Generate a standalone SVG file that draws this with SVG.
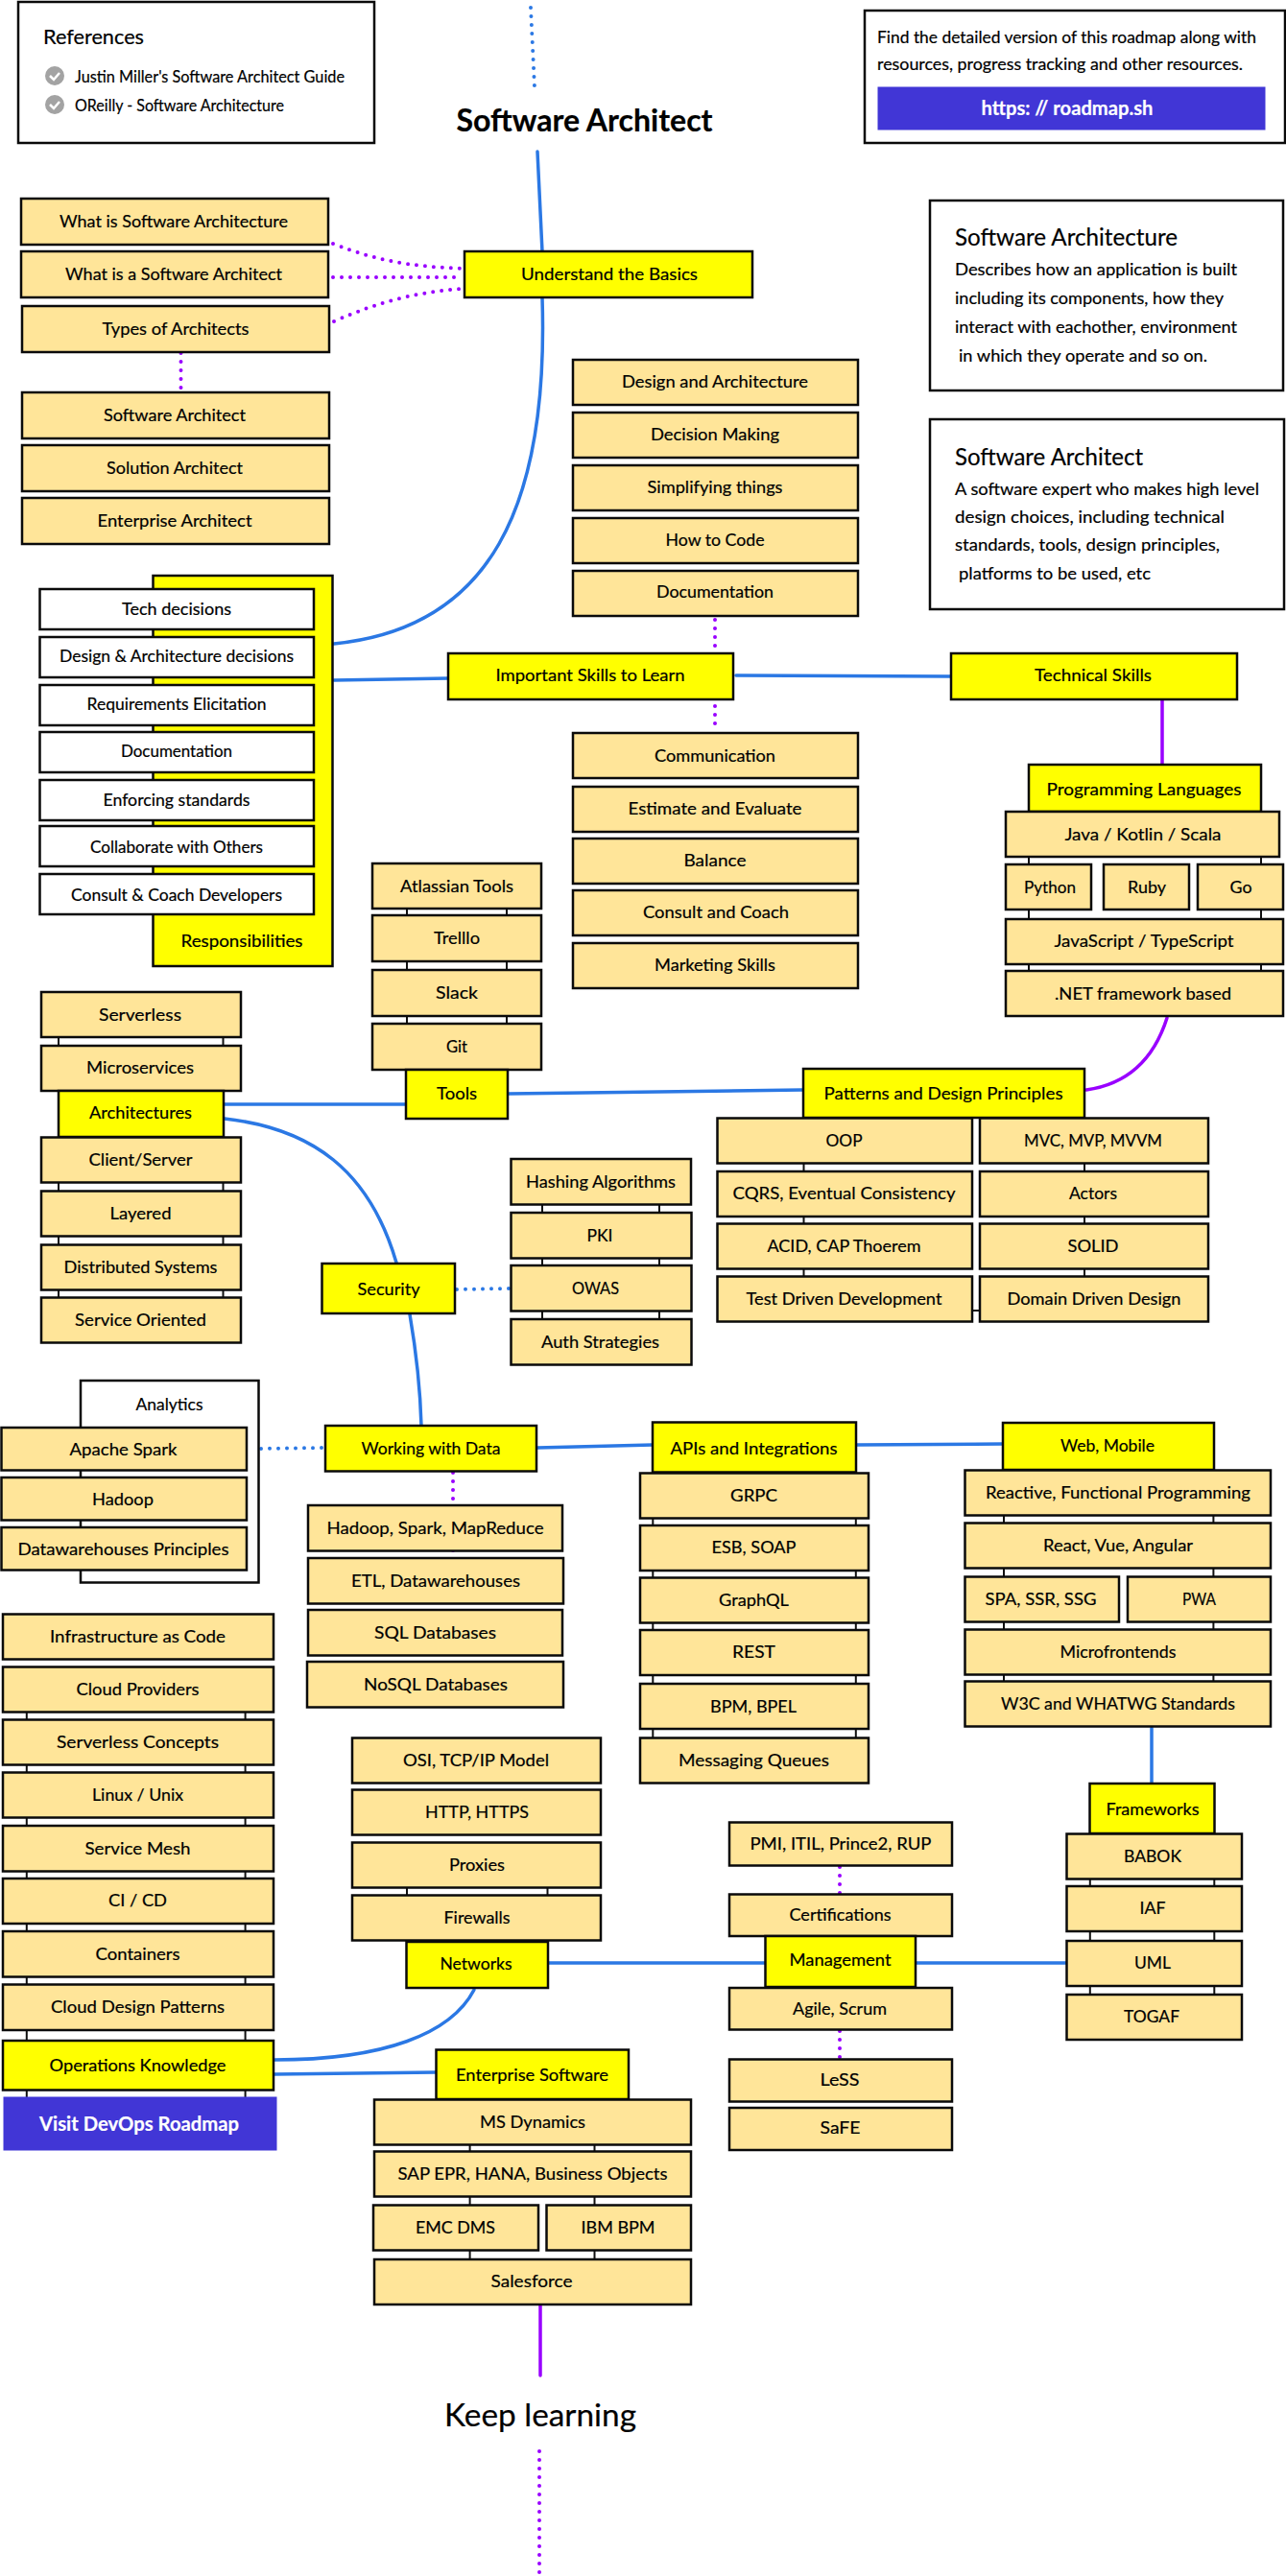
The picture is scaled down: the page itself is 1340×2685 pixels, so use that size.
<svg xmlns="http://www.w3.org/2000/svg" width="1340" height="2685" viewBox="0 0 1340 2685">
<style>
rect{stroke:#0a0a0a;stroke-width:2.5}
.b{fill:#ffe599}.y{fill:#ffff00}.w{fill:#fff}.p{fill:#4136d6;stroke:#4136d6;stroke-width:1}
text{font-family:"Lato","Liberation Sans",sans-serif;font-size:18px;fill:#000;stroke:#000;stroke-width:.2px;dominant-baseline:central;transform:translateY(-1px)}
.t{text-anchor:middle}.l{text-anchor:start}
.s{font-size:17px}.h{font-size:25px}.ti{font-size:33px}.bo{font-weight:700}.wh{fill:#fff;stroke:#fff;font-weight:700}.big{font-size:21px}
.c{fill:none;stroke-linecap:round}
.bl{stroke:#2b78e4;stroke-width:3.5}.pu{stroke:#9900ff;stroke-width:3.5}
.bd{stroke:#2b78e4;stroke-width:4;stroke-dasharray:0 9}.pd{stroke:#9900ff;stroke-width:4;stroke-dasharray:0 9}
.k{fill:none;stroke:#111;stroke-width:2}
</style>
<g id="connectors">
<path class="c bd" d="M553 8L557 91"/>
<path class="c bl" d="M560 158L565 262"/>
<path class="c bl" d="M565 310C572 530 510 655 348 671"/>
<path class="c pd" d="M347 254C400 275 440 278 482 280"/>
<path class="c pd" d="M347 289H482"/>
<path class="c pd" d="M348 335C400 312 440 304 482 301"/>
<path class="c pd" d="M188.500 368V405"/>
<path class="c pd" d="M745 646V676"/>
<path class="c pd" d="M745 736V763"/>
<path class="c bl" d="M348 709L467 707"/>
<path class="c bl" d="M767 704L991 705"/>
<path class="c pu" d="M1211 730V797"/>
<path class="c pu" d="M1216 1061C1202 1105 1175 1130 1132 1136"/>
<path class="c bl" d="M530 1140L836 1136"/>
<path class="c bl" d="M234 1151L423 1151"/>
<path class="c bl" d="M234 1166C325 1176 385 1220 413 1316"/>
<path class="c bd" d="M476 1344L531 1343"/>
<path class="c bl" d="M427 1370C433 1405 438 1450 439 1486"/>
<path class="c bd" d="M272 1510L337 1509"/>
<path class="c bl" d="M560 1509L680 1506"/>
<path class="c pd" d="M472 1535V1620"/>
<path class="c bl" d="M893 1506L1045 1505"/>
<path class="c bl" d="M1200 1801V1858"/>
<path class="c pd" d="M875 1946V1974"/>
<path class="c pd" d="M875 2117V2193"/>
<path class="c bl" d="M572 2046H797"/>
<path class="c bl" d="M955 2046H1111"/>
<path class="c bl" d="M494 2074C470 2120 400 2147 286 2147"/>
<path class="c bl" d="M286 2162L454 2160"/>
<path class="c pu" d="M563 2403V2476"/>
<path class="c pd" d="M562 2555V2683"/>
<path class="k" d="M1072 893V1012M1314 893V1012M424 947V1115M528 947V1115M61 1081V1352M232.500 1081V1352M565 1255V1375M687 1255V1375M837.500 1212V1330M1130 1212V1330M1013 1366H1021M1013 1165H1021M680.300 1582V1811M891.800 1582V1811M1046 1579V1752M1264.400 1579V1752M1135.800 1958V2079M1265.300 1958V2079M424 1967V1975M570.500 1967V1975M27.800 1784V2186M255.600 1784V2186M489.600 2235V2355M619.500 2235V2355"/>
</g>
<g id="references"><rect class="w" x="19" y="2" width="371" height="147"/>
<text class="l big" x="45" y="38" textLength="105" lengthAdjust="spacingAndGlyphs">References</text>
<circle cx="57" cy="79" r="10" fill="#a3a3a3"/><path d="M52 79l4 4 6-7" fill="none" stroke="#fff" stroke-width="2.500"/>
<text class="l s" x="78" y="80" textLength="281" lengthAdjust="spacingAndGlyphs">Justin Miller's Software Architect Guide</text>
<circle cx="57" cy="109" r="10" fill="#a3a3a3"/><path d="M52 109l4 4 6-7" fill="none" stroke="#fff" stroke-width="2.500"/>
<text class="l s" x="78" y="110" textLength="218" lengthAdjust="spacingAndGlyphs">OReilly - Software Architecture</text></g>
<g id="title"><text class="t ti bo" x="609" y="125" textLength="267" lengthAdjust="spacingAndGlyphs">Software Architect</text></g>
<g id="roadmap-box"><rect class="w" x="901" y="11" width="438" height="138"/>
<text class="l s" x="914" y="39" textLength="395" lengthAdjust="spacingAndGlyphs">Find the detailed version of this roadmap along with</text>
<text class="l s" x="914" y="67" textLength="381" lengthAdjust="spacingAndGlyphs">resources, progress tracking and other resources.</text>
<rect class="p" x="915" y="91" width="403" height="44"/>
<text class="t wh big" x="1112" y="112" textLength="179" lengthAdjust="spacingAndGlyphs">https: // roadmap.sh</text></g>
<g id="about-architecture"><rect class="w" x="969" y="209" width="368" height="198"/>
<text class="l h" x="995" y="247" textLength="232" lengthAdjust="spacingAndGlyphs">Software Architecture</text>
<text class="l" x="995" y="281" textLength="294" lengthAdjust="spacingAndGlyphs">Describes how an application is built</text>
<text class="l" x="995" y="311" textLength="280" lengthAdjust="spacingAndGlyphs">including its components, how they</text>
<text class="l" x="995" y="341" textLength="294" lengthAdjust="spacingAndGlyphs">interact with eachother, environment</text>
<text class="l" x="999" y="371" textLength="259" lengthAdjust="spacingAndGlyphs">in which they operate and so on.</text></g>
<g id="about-architect"><rect class="w" x="969" y="437" width="369" height="198"/>
<text class="l h" x="995" y="476" textLength="196" lengthAdjust="spacingAndGlyphs">Software Architect</text>
<text class="l" x="995" y="510" textLength="317" lengthAdjust="spacingAndGlyphs">A software expert who makes high level</text>
<text class="l" x="995" y="539" textLength="281" lengthAdjust="spacingAndGlyphs">design choices, including technical</text>
<text class="l" x="995" y="568" textLength="276" lengthAdjust="spacingAndGlyphs">standards, tools, design principles,</text>
<text class="l" x="999" y="598" textLength="200" lengthAdjust="spacingAndGlyphs">platforms to be used, etc</text></g>

<g id="understand"><rect class="y" x="484" y="262" width="300" height="48"/><text class="t" x="635" y="286" textLength="184" lengthAdjust="spacingAndGlyphs">Understand the Basics</text></g>
<g id="what-architecture"><rect class="b" x="22" y="207" width="320" height="48"/><text class="t" x="181" y="231" textLength="238" lengthAdjust="spacingAndGlyphs">What is Software Architecture</text></g>
<g id="what-architect"><rect class="b" x="22" y="262" width="320" height="48"/><text class="t" x="181" y="286" textLength="226" lengthAdjust="spacingAndGlyphs">What is a Software Architect</text></g>
<g id="types"><rect class="b" x="23" y="319" width="320" height="48"/><text class="t" x="183" y="343" textLength="153" lengthAdjust="spacingAndGlyphs">Types of Architects</text></g>
<g id="software-architect"><rect class="b" x="23" y="409" width="320" height="48"/><text class="t" x="182" y="433" textLength="148" lengthAdjust="spacingAndGlyphs">Software Architect</text></g>
<g id="solution-architect"><rect class="b" x="23" y="464" width="320" height="48"/><text class="t" x="182" y="488" textLength="142" lengthAdjust="spacingAndGlyphs">Solution Architect</text></g>
<g id="enterprise-architect"><rect class="b" x="23" y="519" width="320" height="48"/><text class="t" x="182" y="543" textLength="161" lengthAdjust="spacingAndGlyphs">Enterprise Architect</text></g>

<g id="design"><rect class="b" x="597" y="375" width="297" height="47"/><text class="t" x="745" y="398" textLength="194" lengthAdjust="spacingAndGlyphs">Design and Architecture</text></g>
<g id="decision"><rect class="b" x="597" y="430" width="297" height="47"/><text class="t" x="745" y="453" textLength="134" lengthAdjust="spacingAndGlyphs">Decision Making</text></g>
<g id="simplifying"><rect class="b" x="597" y="485" width="297" height="47"/><text class="t" x="745" y="508" textLength="141" lengthAdjust="spacingAndGlyphs">Simplifying things</text></g>
<g id="how-to-code"><rect class="b" x="597" y="540" width="297" height="47"/><text class="t" x="745" y="563" textLength="103" lengthAdjust="spacingAndGlyphs">How to Code</text></g>
<g id="documentation"><rect class="b" x="597" y="595" width="297" height="47"/><text class="t" x="745" y="617" textLength="122" lengthAdjust="spacingAndGlyphs">Documentation</text></g>
<g id="important"><rect class="y" x="467" y="681" width="297" height="48"/><text class="t" x="615" y="704" textLength="197" lengthAdjust="spacingAndGlyphs">Important Skills to Learn</text></g>
<g id="technical"><rect class="y" x="991" y="681" width="298" height="48"/><text class="t" x="1139" y="704" textLength="122" lengthAdjust="spacingAndGlyphs">Technical Skills</text></g>
<g id="communication"><rect class="b" x="597" y="764" width="297" height="47"/><text class="t" x="745" y="788" textLength="126" lengthAdjust="spacingAndGlyphs">Communication</text></g>
<g id="estimate"><rect class="b" x="597" y="820" width="297" height="47"/><text class="t" x="745" y="843" textLength="181" lengthAdjust="spacingAndGlyphs">Estimate and Evaluate</text></g>
<g id="balance"><rect class="b" x="597" y="874" width="297" height="47"/><text class="t" x="745" y="897" textLength="65" lengthAdjust="spacingAndGlyphs">Balance</text></g>
<g id="consult"><rect class="b" x="597" y="928" width="297" height="47"/><text class="t" x="746" y="951" textLength="152" lengthAdjust="spacingAndGlyphs">Consult and Coach</text></g>
<g id="marketing"><rect class="b" x="597" y="983" width="297" height="47"/><text class="t" x="745" y="1006" textLength="126" lengthAdjust="spacingAndGlyphs">Marketing Skills</text></g>

<g id="responsibilities"><rect class="y" x="159.500" y="600" width="187" height="407"/><text class="t" x="252" y="981" textLength="127" lengthAdjust="spacingAndGlyphs">Responsibilities</text></g>
<g id="tech-decisions"><rect class="w" x="41.500" y="614" width="285.500" height="42"/><text class="t" x="184" y="635" textLength="114" lengthAdjust="spacingAndGlyphs">Tech decisions</text></g>
<g id="design-decisions"><rect class="w" x="41.500" y="664" width="285.500" height="42"/><text class="t" x="184" y="684" textLength="244" lengthAdjust="spacingAndGlyphs">Design &amp; Architecture decisions</text></g>
<g id="requirements"><rect class="w" x="41.500" y="714" width="285.500" height="42"/><text class="t" x="184" y="734" textLength="187" lengthAdjust="spacingAndGlyphs">Requirements Elicitation</text></g>
<g id="resp-documentation"><rect class="w" x="41.500" y="763" width="285.500" height="42"/><text class="t" x="184" y="783" textLength="116" lengthAdjust="spacingAndGlyphs">Documentation</text></g>
<g id="enforcing"><rect class="w" x="41.500" y="813" width="285.500" height="42"/><text class="t" x="184" y="834" textLength="153" lengthAdjust="spacingAndGlyphs">Enforcing standards</text></g>
<g id="collaborate"><rect class="w" x="41.500" y="861" width="285.500" height="42"/><text class="t" x="184" y="883" textLength="180" lengthAdjust="spacingAndGlyphs">Collaborate with Others</text></g>
<g id="consult-coach"><rect class="w" x="41.500" y="911" width="285.500" height="42"/><text class="t" x="184" y="933" textLength="220" lengthAdjust="spacingAndGlyphs">Consult &amp; Coach Developers</text></g>

<g id="programming"><rect class="y" x="1072" y="797" width="242" height="49"/><text class="t" x="1192" y="823" textLength="203" lengthAdjust="spacingAndGlyphs">Programming Languages</text></g>
<g id="java"><rect class="b" x="1048" y="846" width="285" height="47"/><text class="t" x="1191" y="870" textLength="163" lengthAdjust="spacingAndGlyphs">Java / Kotlin / Scala</text></g>
<g id="python"><rect class="b" x="1048" y="901" width="89" height="47"/><text class="t" x="1094" y="925" textLength="54" lengthAdjust="spacingAndGlyphs">Python</text></g>
<g id="ruby"><rect class="b" x="1150" y="901" width="89" height="47"/><text class="t" x="1195" y="925" textLength="40" lengthAdjust="spacingAndGlyphs">Ruby</text></g>
<g id="go"><rect class="b" x="1248" y="901" width="89" height="47"/><text class="t" x="1293" y="925" textLength="23" lengthAdjust="spacingAndGlyphs">Go</text></g>
<g id="javascript"><rect class="b" x="1048" y="958" width="289" height="47"/><text class="t" x="1192" y="981" textLength="187" lengthAdjust="spacingAndGlyphs">JavaScript / TypeScript</text></g>
<g id="dotnet"><rect class="b" x="1048" y="1012" width="289" height="47"/><text class="t" x="1191" y="1036" textLength="184" lengthAdjust="spacingAndGlyphs">.NET framework based</text></g>

<g id="atlassian"><rect class="b" x="388" y="900" width="176" height="47"/><text class="t" x="476" y="924" textLength="118" lengthAdjust="spacingAndGlyphs">Atlassian Tools</text></g>
<g id="trello"><rect class="b" x="388" y="954" width="176" height="48"/><text class="t" x="476" y="978" textLength="48" lengthAdjust="spacingAndGlyphs">Trelllo</text></g>
<g id="slack"><rect class="b" x="388" y="1011" width="176" height="48"/><text class="t" x="476" y="1035" textLength="44" lengthAdjust="spacingAndGlyphs">Slack</text></g>
<g id="git"><rect class="b" x="388" y="1067" width="176" height="48"/><text class="t" x="476" y="1091" textLength="22" lengthAdjust="spacingAndGlyphs">Git</text></g>
<g id="tools"><rect class="y" x="423" y="1115" width="106" height="51"/><text class="t" x="476" y="1140" textLength="42" lengthAdjust="spacingAndGlyphs">Tools</text></g>

<g id="patterns"><rect class="y" x="837" y="1114" width="293" height="51"/><text class="t" x="983" y="1140" textLength="249" lengthAdjust="spacingAndGlyphs">Patterns and Design Principles</text></g>
<g id="oop"><rect class="b" x="747.500" y="1165.500" width="265.500" height="47"/><text class="t" x="879.500" y="1189" textLength="38" lengthAdjust="spacingAndGlyphs">OOP</text></g>
<g id="mvc"><rect class="b" x="1021" y="1165.500" width="238" height="47"/><text class="t" x="1139" y="1189" textLength="144" lengthAdjust="spacingAndGlyphs">MVC, MVP, MVVM</text></g>
<g id="cqrs"><rect class="b" x="747.500" y="1221" width="265.500" height="47"/><text class="t" x="879.500" y="1244" textLength="232" lengthAdjust="spacingAndGlyphs">CQRS, Eventual Consistency</text></g>
<g id="actors"><rect class="b" x="1021" y="1221" width="238" height="47"/><text class="t" x="1139" y="1244" textLength="50" lengthAdjust="spacingAndGlyphs">Actors</text></g>
<g id="acid"><rect class="b" x="747.500" y="1275.500" width="265.500" height="47"/><text class="t" x="879.500" y="1299" textLength="160" lengthAdjust="spacingAndGlyphs">ACID, CAP Thoerem</text></g>
<g id="solid"><rect class="b" x="1021" y="1275.500" width="238" height="47"/><text class="t" x="1139" y="1299" textLength="53" lengthAdjust="spacingAndGlyphs">SOLID</text></g>
<g id="tdd"><rect class="b" x="747.500" y="1330.500" width="265.500" height="47"/><text class="t" x="879.500" y="1354" textLength="204" lengthAdjust="spacingAndGlyphs">Test Driven Development</text></g>
<g id="ddd"><rect class="b" x="1021" y="1330.500" width="238" height="47"/><text class="t" x="1140" y="1354" textLength="181" lengthAdjust="spacingAndGlyphs">Domain Driven Design</text></g>

<g id="serverless"><rect class="b" x="43" y="1034" width="208" height="47"/><text class="t" x="146" y="1058" textLength="86" lengthAdjust="spacingAndGlyphs">Serverless</text></g>
<g id="microservices"><rect class="b" x="43" y="1090" width="208" height="47"/><text class="t" x="146" y="1113" textLength="112" lengthAdjust="spacingAndGlyphs">Microservices</text></g>
<g id="architectures"><rect class="y" x="61" y="1137" width="172" height="48"/><text class="t" x="146.500" y="1160" textLength="107" lengthAdjust="spacingAndGlyphs">Architectures</text></g>
<g id="client-server"><rect class="b" x="43" y="1185.500" width="208" height="47"/><text class="t" x="146.500" y="1209" textLength="108" lengthAdjust="spacingAndGlyphs">Client/Server</text></g>
<g id="layered"><rect class="b" x="43" y="1241.500" width="208" height="47"/><text class="t" x="146.500" y="1265" textLength="64" lengthAdjust="spacingAndGlyphs">Layered</text></g>
<g id="distributed"><rect class="b" x="43" y="1297.500" width="208" height="47"/><text class="t" x="146.500" y="1321" textLength="160" lengthAdjust="spacingAndGlyphs">Distributed Systems</text></g>
<g id="service-oriented"><rect class="b" x="43" y="1352.500" width="208" height="47"/><text class="t" x="146.500" y="1376" textLength="137" lengthAdjust="spacingAndGlyphs">Service Oriented</text></g>

<g id="security"><rect class="y" x="335.500" y="1317" width="138.500" height="52"/><text class="t" x="405" y="1344" textLength="65" lengthAdjust="spacingAndGlyphs">Security</text></g>
<g id="hashing"><rect class="b" x="532.500" y="1208" width="187.500" height="47.500"/><text class="t" x="626" y="1232" textLength="156" lengthAdjust="spacingAndGlyphs">Hashing Algorithms</text></g>
<g id="pki"><rect class="b" x="532.500" y="1264" width="188" height="47.500"/><text class="t" x="625" y="1288" textLength="27" lengthAdjust="spacingAndGlyphs">PKI</text></g>
<g id="owas"><rect class="b" x="532.500" y="1319" width="188" height="47.500"/><text class="t" x="620.500" y="1343" textLength="49" lengthAdjust="spacingAndGlyphs">OWAS</text></g>
<g id="auth"><rect class="b" x="532.500" y="1375" width="188" height="47.500"/><text class="t" x="625.500" y="1399" textLength="123" lengthAdjust="spacingAndGlyphs">Auth Strategies</text></g>

<g id="analytics"><rect class="w" x="84" y="1439" width="185.500" height="210.500"/><text class="t" x="176.500" y="1464" textLength="70" lengthAdjust="spacingAndGlyphs">Analytics</text></g>
<g id="spark"><rect class="b" x="1.500" y="1488" width="255.500" height="44.500"/><text class="t" x="128.500" y="1511" textLength="112" lengthAdjust="spacingAndGlyphs">Apache Spark</text></g>
<g id="hadoop"><rect class="b" x="1.500" y="1540" width="255.500" height="44.500"/><text class="t" x="128" y="1563" textLength="64" lengthAdjust="spacingAndGlyphs">Hadoop</text></g>
<g id="dw-principles"><rect class="b" x="1.500" y="1592" width="255.500" height="44.500"/><text class="t" x="128.500" y="1615" textLength="220" lengthAdjust="spacingAndGlyphs">Datawarehouses Principles</text></g>

<g id="working"><rect class="y" x="339" y="1486" width="220" height="47.500"/><text class="t" x="449" y="1510" textLength="145" lengthAdjust="spacingAndGlyphs">Working with Data</text></g>
<g id="hadoop-spark"><rect class="b" x="321" y="1569" width="265" height="47.500"/><text class="t" x="453.500" y="1593" textLength="226" lengthAdjust="spacingAndGlyphs">Hadoop, Spark, MapReduce</text></g>
<g id="etl"><rect class="b" x="321" y="1624" width="266" height="47.500"/><text class="t" x="454" y="1648" textLength="176" lengthAdjust="spacingAndGlyphs">ETL, Datawarehouses</text></g>
<g id="sql"><rect class="b" x="321" y="1678" width="265" height="47.500"/><text class="t" x="453.500" y="1702" textLength="127" lengthAdjust="spacingAndGlyphs">SQL Databases</text></g>
<g id="nosql"><rect class="b" x="320" y="1732" width="267" height="47.500"/><text class="t" x="454" y="1756" textLength="150" lengthAdjust="spacingAndGlyphs">NoSQL Databases</text></g>

<g id="apis"><rect class="y" x="680" y="1482.500" width="212" height="52"/><text class="t" x="785.500" y="1510" textLength="174" lengthAdjust="spacingAndGlyphs">APIs and Integrations</text></g>
<g id="grpc"><rect class="b" x="667" y="1535.500" width="238" height="47"/><text class="t" x="785.500" y="1559" textLength="49" lengthAdjust="spacingAndGlyphs">GRPC</text></g>
<g id="esb"><rect class="b" x="667" y="1590" width="238" height="47"/><text class="t" x="785.500" y="1613" textLength="88" lengthAdjust="spacingAndGlyphs">ESB, SOAP</text></g>
<g id="graphql"><rect class="b" x="667" y="1644.500" width="238" height="47"/><text class="t" x="785.500" y="1668" textLength="73" lengthAdjust="spacingAndGlyphs">GraphQL</text></g>
<g id="rest"><rect class="b" x="667" y="1699" width="238" height="47"/><text class="t" x="785.500" y="1722" textLength="45" lengthAdjust="spacingAndGlyphs">REST</text></g>
<g id="bpm"><rect class="b" x="667" y="1755" width="238" height="47"/><text class="t" x="785" y="1778.500" textLength="90" lengthAdjust="spacingAndGlyphs">BPM, BPEL</text></g>
<g id="messaging"><rect class="b" x="667" y="1811.500" width="238" height="47"/><text class="t" x="785.500" y="1835" textLength="157" lengthAdjust="spacingAndGlyphs">Messaging Queues</text></g>

<g id="web-mobile"><rect class="y" x="1045" y="1483" width="220" height="49"/><text class="t" x="1154" y="1507" textLength="98" lengthAdjust="spacingAndGlyphs">Web, Mobile</text></g>
<g id="reactive"><rect class="b" x="1005.500" y="1532.500" width="318.500" height="47"/><text class="t" x="1165" y="1556" textLength="276" lengthAdjust="spacingAndGlyphs">Reactive, Functional Programming</text></g>
<g id="react"><rect class="b" x="1005.500" y="1587.500" width="318.500" height="47"/><text class="t" x="1165" y="1611" textLength="156" lengthAdjust="spacingAndGlyphs">React, Vue, Angular</text></g>
<g id="spa"><rect class="b" x="1005.500" y="1643.500" width="160.500" height="47"/><text class="t" x="1084.500" y="1666.500" textLength="116" lengthAdjust="spacingAndGlyphs">SPA, SSR, SSG</text></g>
<g id="pwa"><rect class="b" x="1175" y="1643.500" width="149" height="47"/><text class="t" x="1249.500" y="1666.500" textLength="35" lengthAdjust="spacingAndGlyphs">PWA</text></g>
<g id="microfrontends"><rect class="b" x="1005.500" y="1698.500" width="318.500" height="47"/><text class="t" x="1165" y="1722" textLength="121" lengthAdjust="spacingAndGlyphs">Microfrontends</text></g>
<g id="w3c"><rect class="b" x="1005.500" y="1752.500" width="318.500" height="47"/><text class="t" x="1165" y="1776" textLength="244" lengthAdjust="spacingAndGlyphs">W3C and WHATWG Standards</text></g>

<g id="frameworks"><rect class="y" x="1135.500" y="1859" width="130" height="52"/><text class="t" x="1201" y="1886" textLength="97" lengthAdjust="spacingAndGlyphs">Frameworks</text></g>
<g id="babok"><rect class="b" x="1111.500" y="1911.500" width="182.500" height="47"/><text class="t" x="1201" y="1935" textLength="60" lengthAdjust="spacingAndGlyphs">BABOK</text></g>
<g id="iaf"><rect class="b" x="1111.500" y="1966" width="182.500" height="47"/><text class="t" x="1201" y="1989" textLength="27" lengthAdjust="spacingAndGlyphs">IAF</text></g>
<g id="uml"><rect class="b" x="1111.500" y="2023" width="182.500" height="47"/><text class="t" x="1201" y="2046" textLength="38" lengthAdjust="spacingAndGlyphs">UML</text></g>
<g id="togaf"><rect class="b" x="1111.500" y="2079" width="182.500" height="47"/><text class="t" x="1200" y="2102" textLength="58" lengthAdjust="spacingAndGlyphs">TOGAF</text></g>

<g id="pmi"><rect class="b" x="760" y="1899.500" width="232" height="45"/><text class="t" x="876" y="1922" textLength="189" lengthAdjust="spacingAndGlyphs">PMI, ITIL, Prince2, RUP</text></g>
<g id="certifications"><rect class="b" x="760" y="1974.500" width="232" height="43.500"/><text class="t" x="875.500" y="1996" textLength="106" lengthAdjust="spacingAndGlyphs">Certifications</text></g>
<g id="management"><rect class="y" x="797.500" y="2018" width="156.500" height="53"/><text class="t" x="875.500" y="2043" textLength="106" lengthAdjust="spacingAndGlyphs">Management</text></g>
<g id="agile"><rect class="b" x="760" y="2072" width="232" height="43.500"/><text class="t" x="875" y="2094" textLength="98" lengthAdjust="spacingAndGlyphs">Agile, Scrum</text></g>
<g id="less"><rect class="b" x="760" y="2146.500" width="232" height="44"/><text class="t" x="875" y="2168" textLength="41" lengthAdjust="spacingAndGlyphs">LeSS</text></g>
<g id="safe"><rect class="b" x="760" y="2197" width="232" height="44"/><text class="t" x="875.500" y="2218" textLength="42" lengthAdjust="spacingAndGlyphs">SaFE</text></g>

<g id="infra"><rect class="b" x="3" y="1682.500" width="282" height="47"/><text class="t" x="143.500" y="1706" textLength="183" lengthAdjust="spacingAndGlyphs">Infrastructure as Code</text></g>
<g id="cloud-providers"><rect class="b" x="3" y="1737.500" width="282" height="47"/><text class="t" x="143.500" y="1761" textLength="128" lengthAdjust="spacingAndGlyphs">Cloud Providers</text></g>
<g id="serverless-concepts"><rect class="b" x="3" y="1792.500" width="282" height="47"/><text class="t" x="143.500" y="1816" textLength="169" lengthAdjust="spacingAndGlyphs">Serverless Concepts</text></g>
<g id="linux"><rect class="b" x="3" y="1847.500" width="282" height="47"/><text class="t" x="143.500" y="1871" textLength="95" lengthAdjust="spacingAndGlyphs">Linux / Unix</text></g>
<g id="service-mesh"><rect class="b" x="3" y="1903" width="282" height="47.500"/><text class="t" x="143.500" y="1927" textLength="110" lengthAdjust="spacingAndGlyphs">Service Mesh</text></g>
<g id="cicd"><rect class="b" x="3" y="1958" width="282" height="47"/><text class="t" x="143.500" y="1981" textLength="61" lengthAdjust="spacingAndGlyphs">CI / CD</text></g>
<g id="containers"><rect class="b" x="3" y="2013" width="282" height="47.500"/><text class="t" x="143.500" y="2037" textLength="88" lengthAdjust="spacingAndGlyphs">Containers</text></g>
<g id="cloud-patterns"><rect class="b" x="3" y="2068.500" width="282" height="47.500"/><text class="t" x="143.500" y="2092" textLength="181" lengthAdjust="spacingAndGlyphs">Cloud Design Patterns</text></g>
<g id="operations"><rect class="y" x="3" y="2127" width="282" height="51.500"/><text class="t" x="143.500" y="2153" textLength="184" lengthAdjust="spacingAndGlyphs">Operations Knowledge</text></g>
<g id="devops"><rect class="p" x="4" y="2186" width="284" height="55"/><text class="t wh big" x="145" y="2213" textLength="208" lengthAdjust="spacingAndGlyphs">Visit DevOps Roadmap</text></g>

<g id="osi"><rect class="b" x="367" y="1811.500" width="259" height="47"/><text class="t" x="496" y="1835" textLength="152" lengthAdjust="spacingAndGlyphs">OSI, TCP/IP Model</text></g>
<g id="http"><rect class="b" x="367" y="1865.500" width="259" height="47"/><text class="t" x="497" y="1889" textLength="108" lengthAdjust="spacingAndGlyphs">HTTP, HTTPS</text></g>
<g id="proxies"><rect class="b" x="367" y="1920.500" width="259" height="47"/><text class="t" x="497" y="1944" textLength="58" lengthAdjust="spacingAndGlyphs">Proxies</text></g>
<g id="firewalls"><rect class="b" x="367" y="1975.500" width="259" height="47"/><text class="t" x="497" y="1999" textLength="69" lengthAdjust="spacingAndGlyphs">Firewalls</text></g>
<g id="networks"><rect class="y" x="423.500" y="2024" width="147.500" height="48"/><text class="t" x="496" y="2047" textLength="75" lengthAdjust="spacingAndGlyphs">Networks</text></g>

<g id="enterprise"><rect class="y" x="454.500" y="2136.500" width="200.500" height="51.500"/><text class="t" x="554.500" y="2163" textLength="159" lengthAdjust="spacingAndGlyphs">Enterprise Software</text></g>
<g id="ms-dynamics"><rect class="b" x="390" y="2188.500" width="330" height="47"/><text class="t" x="555" y="2212" textLength="110" lengthAdjust="spacingAndGlyphs">MS Dynamics</text></g>
<g id="sap"><rect class="b" x="390" y="2242.500" width="330" height="47"/><text class="t" x="555" y="2266" textLength="281" lengthAdjust="spacingAndGlyphs">SAP EPR, HANA, Business Objects</text></g>
<g id="emc"><rect class="b" x="389" y="2298.500" width="172" height="47"/><text class="t" x="474.500" y="2322" textLength="83" lengthAdjust="spacingAndGlyphs">EMC DMS</text></g>
<g id="ibm"><rect class="b" x="569.500" y="2298.500" width="150.500" height="47"/><text class="t" x="644" y="2322" textLength="77" lengthAdjust="spacingAndGlyphs">IBM BPM</text></g>
<g id="salesforce"><rect class="b" x="390" y="2355" width="330" height="47"/><text class="t" x="554" y="2378" textLength="85" lengthAdjust="spacingAndGlyphs">Salesforce</text></g>
<g id="keep-learning"><text class="t ti" x="563" y="2517" textLength="200" lengthAdjust="spacingAndGlyphs">Keep learning</text></g>
</svg>
